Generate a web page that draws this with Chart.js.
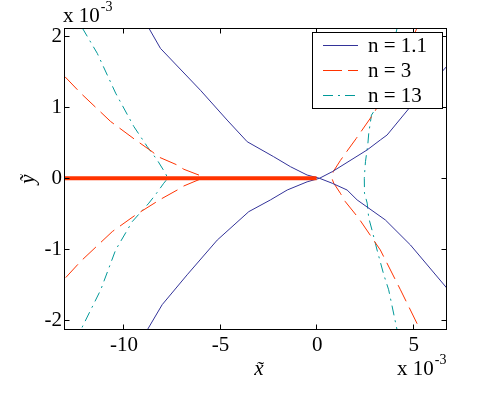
<!DOCTYPE html>
<html>
<head>
<meta charset="utf-8">
<script src="https://cdn.jsdelivr.net/npm/chart.js@4"></script>
<style>
  html, body { margin: 0; padding: 0; background: #fff; }
  canvas { display: block; }
</style>
</head>
<body>
<canvas id="c" width="493" height="394"></canvas>
<script>
// values in units of 1e-3 (axes show "x 10^-3")
const xRange = [-13.05, 6.72];
const yRange = [-2.137, 2.117];
const xTicks = [-10, -5, 0, 5];
const yTicks = [-2, -1, 0, 1, 2];
const seriesNames = ['n = 1.1', 'n = 3', 'n = 13'];

// n = 1.1, two crossing branches
const blueAX = [-8.72, -8.11, -6.04, -4.66, -3.62, -2.25, -1.38, -0.52, 0.12, 0.78, 1.55, 2.07, 3.53, 4.83, 6.72];
const blueAY = [2.12, 1.83, 1.24, 0.82, 0.515, 0.304, 0.163, 0.046, 0, -0.07, -0.165, -0.305, -0.587, -0.94, -1.55];
const blueBX = [-8.80, -8.02, -6.73, -5.17, -3.54, -2.42, -1.55, -0.52, 0.12, 0.78, 2.59, 3.27, 3.62, 4.83, 6.72];
const blueBY = [-2.14, -1.78, -1.36, -0.87, -0.47, -0.305, -0.165, -0.05, 0, 0.093, 0.40, 0.54, 0.61, 1.01, 1.58];

// n = 3, left and right cusps
const redLX = [-13.05, -12.24, -10.69, -9.40, -8.54, -8.2, -7.24, -6.9, -6.04, -5.95, -6.9, -7.24, -8.1, -9.4, -10.6, -12.24, -13.05];
const redLY = [1.43, 1.20, 0.80, 0.54, 0.375, 0.30, 0.187, 0.127, 0.037, 0, -0.108, -0.165, -0.295, -0.517, -0.75, -1.17, -1.41];
const redRX = [5.17, 4.25, 2.93, 2.02, 1.46, 1.2, 0.83, 0.76, 0.86, 1.2, 1.46, 2.15, 3.27, 4.31, 5.34];
const redRY = [2.12, 1.55, 0.915, 0.56, 0.35, 0.25, 0.093, 0, -0.07, -0.21, -0.33, -0.563, -1.01, -1.57, -2.14];

// n = 13
const tealLX = [-12.16, -11.38, -10.43, -9.49, -8.79, -8.28, -7.85, -7.73, -7.94, -8.31, -8.71, -9.57, -10.43, -11.2, -12.24];
const tealLY = [2.12, 1.76, 1.2, 0.73, 0.445, 0.258, 0.07, 0, -0.07, -0.21, -0.35, -0.61, -1.01, -1.57, -2.14];
const tealRX = [4.14, 3.7, 3.45, 3.1, 2.81, 2.67, 2.62, 2.5, 2.45, 2.44, 2.45, 2.59, 2.67, 2.84, 3.1, 3.45, 3.7, 4.14];
const tealRY = [2.12, 1.57, 1.36, 1.01, 0.89, 0.634, 0.47, 0.234, 0.05, 0, -0.21, -0.35, -0.56, -0.73, -1.01, -1.36, -1.57, -2.14];

// thick segment on the axis
const cutX = [-13.05, -0.03];
const cutY = [0, 0];

const BLUE = '#333399', RED = '#ff3300', TEAL = '#009999';
const DASH = [18, 7], DASHDOT = [10, 5, 2, 5];
const serif = '"Liberation Serif", "Times New Roman", serif';

function pts(xs, ys) { return xs.map((x, i) => ({ x: x, y: ys[i] })); }

function line(xs, ys, color, dash, width) {
  return { data: pts(xs, ys), borderColor: color, borderWidth: width || 1,
           borderDash: dash || [], fill: false, pointRadius: 0, tension: 0 };
}

// frame with inward ticks, legend drawn over the lines, axis labels
const matlabFrame = {
  id: 'matlabFrame',
  afterDraw(chart) {
    const { ctx, chartArea: a, scales: { x, y } } = chart;
    const L = a.left - 0.5, R = a.right - 0.5, T = a.top + 0.5, B = a.bottom - 0.5;
    ctx.save();
    ctx.strokeStyle = '#000';
    ctx.lineWidth = 1;
    ctx.setLineDash([]);
    ctx.strokeRect(L, T, R - L, B - T);
    const tl = 5;
    ctx.beginPath();
    xTicks.forEach(v => {
      const px = Math.round(x.getPixelForValue(v)) - 0.5;
      ctx.moveTo(px, B); ctx.lineTo(px, B - tl);
      ctx.moveTo(px, T); ctx.lineTo(px, T + tl);
    });
    yTicks.forEach(v => {
      const py = Math.round(y.getPixelForValue(v)) + 0.5;
      ctx.moveTo(L, py); ctx.lineTo(L + tl, py);
      ctx.moveTo(R, py); ctx.lineTo(R - tl, py);
    });
    ctx.stroke();

    // legend box
    const lx = 312.5, ly = 32.5, lw = 130, lh = 76;
    ctx.fillStyle = '#fff';
    ctx.fillRect(lx, ly, lw, lh);
    ctx.strokeRect(lx, ly, lw, lh);
    const colors = [BLUE, RED, TEAL], dashes = [[], [19, 6], DASHDOT];
    const rows = [45.5, 70.5, 95.5];
    ctx.font = '21px ' + serif;
    ctx.textBaseline = 'middle';
    ctx.textAlign = 'left';
    seriesNames.forEach((name, i) => {
      ctx.strokeStyle = colors[i];
      ctx.setLineDash(dashes[i]);
      ctx.beginPath();
      ctx.moveTo(323, rows[i]); ctx.lineTo(358, rows[i]);
      ctx.stroke();
      ctx.fillStyle = '#000';
      ctx.fillText(name, 368, rows[i] + 1);
    });
    ctx.setLineDash([]);

    // exponent labels
    ctx.fillStyle = '#000';
    ctx.textBaseline = 'alphabetic';
    function expo(x0, base) {
      ctx.font = '21px ' + serif;
      ctx.fillText('x 10', x0, base);
      const w = ctx.measureText('x 10').width;
      ctx.font = '14px ' + serif;
      ctx.fillText('-3', x0 + w + 1, base - 11);
    }
    expo(63, 22);
    expo(397, 375);

    // axis titles
    ctx.font = 'italic 21px ' + serif;
    ctx.textAlign = 'center';
    ctx.fillText('x\u0303', 259, 375);
    ctx.translate(28, 179);
    ctx.rotate(-Math.PI / 2);
    ctx.textBaseline = 'middle';
    ctx.fillText('\u1EF9', 0, 0);
    ctx.restore();
  }
};

const tickFont = { family: serif, size: 21 };

new Chart(document.getElementById('c'), {
  type: 'line',
  data: {
    datasets: [
      line(cutX, cutY, RED, [], 4),
      line(blueAX, blueAY, BLUE),
      line(blueBX, blueBY, BLUE),
      line(redLX, redLY, RED, DASH),
      line(redRX, redRY, RED, DASH),
      line(tealLX, tealLY, TEAL, DASHDOT),
      line(tealRX, tealRY, TEAL, DASHDOT)
    ]
  },
  options: {
    responsive: false,
    animation: false,
    layout: { padding: { top: 28, right: 46, left: 0, bottom: 0 } },
    plugins: { legend: { display: false }, tooltip: { enabled: false } },
    scales: {
      x: {
        type: 'linear', min: xRange[0], max: xRange[1],
        grid: { display: false, drawTicks: false }, border: { display: false },
        ticks: { font: tickFont, color: '#000', padding: 3, maxRotation: 0,
                 callback: v => String(v) },
        afterBuildTicks: s => { s.ticks = xTicks.map(v => ({ value: v })); },
        afterFit: s => { s.height = 64; }
      },
      y: {
        type: 'linear', min: yRange[0], max: yRange[1],
        grid: { display: false, drawTicks: false }, border: { display: false },
        ticks: { font: tickFont, color: '#000', padding: 3,
                 callback: v => String(v) },
        afterBuildTicks: s => { s.ticks = yTicks.map(v => ({ value: v })); },
        afterFit: s => { s.width = 65; }
      }
    }
  },
  plugins: [matlabFrame]
});
</script>
</body>
</html>
